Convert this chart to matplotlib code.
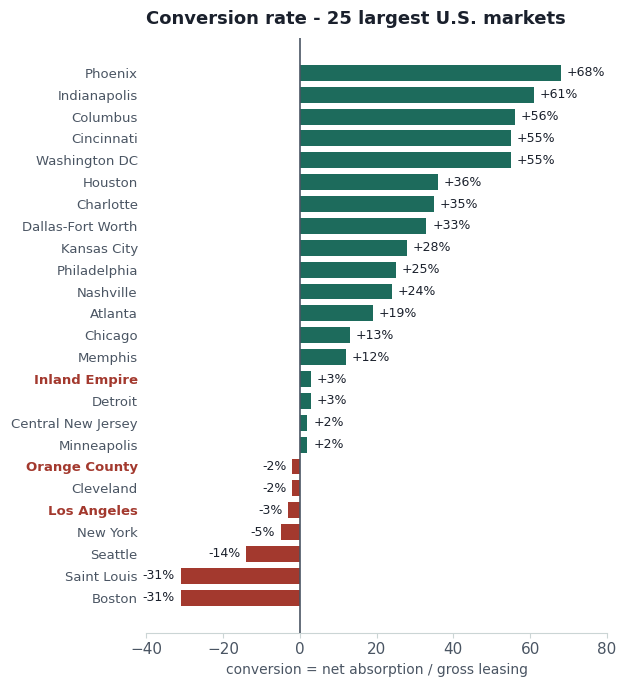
import matplotlib
matplotlib.use("Agg")
import matplotlib.pyplot as plt

# data (top to bottom)
markets = ["Phoenix", "Indianapolis", "Columbus", "Cincinnati", "Washington DC",
           "Houston", "Charlotte", "Dallas-Fort Worth", "Kansas City", "Philadelphia",
           "Nashville", "Atlanta", "Chicago", "Memphis", "Inland Empire", "Detroit",
           "Central New Jersey", "Minneapolis", "Orange County", "Cleveland",
           "Los Angeles", "New York", "Seattle", "Saint Louis", "Boston"]
conversion = [68, 61, 56, 55, 55, 36, 35, 33, 28, 25, 24, 19, 13, 12, 3, 3,
              2, 2, -2, -2, -3, -5, -14, -31, -31]
highlight = ["Inland Empire", "Orange County", "Los Angeles"]

GREEN = "#1d6b5c"
RED = "#a3392e"
GRAY = "#4a5563"
DARK = "#1a202c"

fig = plt.figure(figsize=(6.27, 6.87), dpi=100)
ax = fig.add_axes([0.233, 0.079, 0.735, 0.866])

ypos = list(range(len(markets)))
colors = [GREEN if v >= 0 else RED for v in conversion]
ax.barh(ypos, conversion, height=0.73, color=colors, zorder=2)

for y, v in zip(ypos, conversion):
    if v >= 0:
        ax.text(v + 1.5, y, f"+{v}%", va="center", ha="left", fontsize=9, color=DARK)
    else:
        ax.text(v - 1.5, y, f"{v}%", va="center", ha="right", fontsize=9, color=DARK)

ax.axvline(0, color=GRAY, lw=1.2, zorder=3)

ax.set_yticks(ypos)
ax.set_yticklabels(markets, fontsize=9.5)
for lab in ax.get_yticklabels():
    if lab.get_text() in highlight:
        lab.set_color(RED)
        lab.set_fontweight("bold")
    else:
        lab.set_color(GRAY)
ax.tick_params(axis="y", length=0, pad=6)
ax.tick_params(axis="x", colors="#cbd5d5", labelcolor=GRAY, labelsize=11)

ax.set_xlim(-40, 80)
ax.set_ylim(len(markets) - 1 + 1.6, -1.6)
ax.set_xticks([-40, -20, 0, 20, 40, 60, 80])

for s in ["top", "right", "left"]:
    ax.spines[s].set_visible(False)
ax.spines["bottom"].set_color("#cbd5d5")

ax.set_xlabel("conversion = net absorption / gross leasing", fontsize=10, color=GRAY)
ax.set_title("Conversion rate - 25 largest U.S. markets", fontsize=13,
             fontweight="bold", color=DARK, pad=10, x=0.455)

fig.savefig("out.png", dpi=100)
